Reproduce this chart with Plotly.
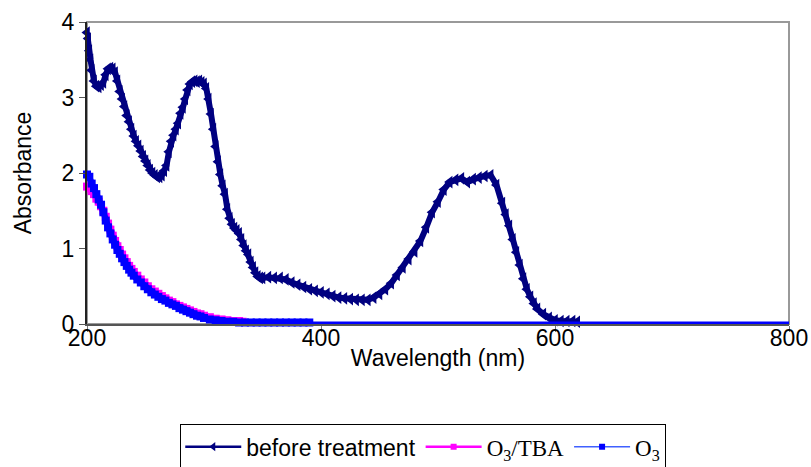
import plotly.graph_objects as go

# ---- data ----
before_wl = [200, 201, 202, 203, 204, 206, 208, 210, 212, 214, 216, 218, 220, 222, 224, 226, 228, 230,
             232, 234, 236, 238, 240, 242, 244, 246, 248, 250, 252, 254, 256, 258, 260, 262, 264, 266,
             268, 270, 272, 274, 276, 278, 280, 282, 284, 286, 288, 290, 292, 294, 296, 298, 300, 302,
             304, 306, 308, 310, 312, 314, 316, 318, 320, 322, 324, 326, 328, 330, 332, 334, 336, 338,
             340, 342, 344, 346, 348, 350, 355, 360, 365, 370, 375, 380, 385, 390, 395, 400, 405, 410,
             415, 420, 425, 430, 435, 440, 445, 450, 455, 460, 465, 470, 475, 480, 485, 490, 495, 500,
             505, 510, 515, 520, 525, 530, 535, 540, 545, 550, 555, 558, 561, 564, 567, 570, 573, 576,
             579, 582, 585, 590, 595, 600, 605, 610, 615, 619]
before_abs = [3.86, 3.78, 3.62, 3.50, 3.36, 3.22, 3.15, 3.14, 3.17, 3.20, 3.30, 3.38, 3.39, 3.38, 3.33, 3.22, 3.08, 2.98,
              2.88, 2.76, 2.68, 2.58, 2.49, 2.42, 2.36, 2.29, 2.22, 2.16, 2.10, 2.04, 2.00, 1.97, 1.95, 1.95, 1.97, 2.03,
              2.10, 2.28, 2.42, 2.50, 2.58, 2.66, 2.79, 2.87, 2.98, 3.10, 3.18, 3.21, 3.22, 3.21, 3.22, 3.20, 3.18, 3.12,
              2.98, 2.78, 2.58, 2.35, 2.15, 1.98, 1.83, 1.72, 1.52, 1.40, 1.32, 1.27, 1.24, 1.20, 1.12, 1.04, 0.97, 0.92,
              0.82, 0.75, 0.68, 0.63, 0.61, 0.61, 0.62, 0.61, 0.61, 0.59, 0.55, 0.52, 0.49, 0.46, 0.44, 0.42, 0.40, 0.37,
              0.35, 0.34, 0.33, 0.32, 0.32, 0.32, 0.35, 0.40, 0.46, 0.54, 0.65, 0.75, 0.86, 0.96, 1.10, 1.28, 1.48, 1.62,
              1.78, 1.88, 1.91, 1.93, 1.88, 1.92, 1.94, 1.96, 1.97, 1.84, 1.60, 1.45, 1.30, 1.12, 0.95, 0.78, 0.60, 0.46,
              0.36, 0.27, 0.20, 0.13, 0.08, 0.05, 0.04, 0.04, 0.04, 0.03]

tba_wl = [200, 202, 204, 206, 208, 210, 212, 214, 216, 218, 220, 222, 224, 226, 228, 230, 232, 234, 236, 238,
          240, 243, 246, 249, 252, 255, 258, 261, 264, 267, 270, 273, 276, 279, 282, 285, 288, 291, 294, 297,
          300, 305, 310, 315, 320, 325, 330, 333]
tba_abs = [1.82, 1.80, 1.76, 1.72, 1.66, 1.62, 1.56, 1.50, 1.42, 1.33, 1.25, 1.17, 1.10, 1.03, 0.98, 0.92, 0.87, 0.82,
           0.77, 0.73, 0.69, 0.64, 0.59, 0.55, 0.50, 0.46, 0.43, 0.40, 0.37, 0.34, 0.31, 0.29, 0.26, 0.24, 0.22, 0.20,
           0.18, 0.16, 0.14, 0.13, 0.11, 0.09, 0.07, 0.06, 0.05, 0.04, 0.04, 0.03]

o3_wl = [200, 202, 204, 206, 208, 210, 212, 214, 216, 218, 220, 222, 224, 226, 228, 230, 232, 234, 236, 238,
         240, 243, 246, 249, 252, 255, 258, 261, 264, 267, 270, 273, 276, 279, 282, 285, 288, 291, 294, 297,
         300, 305, 310, 315, 320, 325, 330, 335, 340, 345, 350, 355, 360, 365, 370, 375, 380, 385, 390]
o3_abs = [1.98, 1.95, 1.86, 1.80, 1.72, 1.65, 1.58, 1.48, 1.37, 1.28, 1.20, 1.12, 1.05, 0.98, 0.93, 0.87, 0.82, 0.77,
          0.72, 0.68, 0.64, 0.59, 0.55, 0.50, 0.46, 0.42, 0.39, 0.36, 0.33, 0.31, 0.28, 0.26, 0.24, 0.21, 0.19, 0.17,
          0.15, 0.13, 0.11, 0.10, 0.08, 0.06, 0.05, 0.04, 0.03, 0.03, 0.02, 0.02, 0.02, 0.02, 0.02, 0.02, 0.02, 0.02,
          0.02, 0.02, 0.02, 0.02, 0.02]
o3_tail_wl = [390, 800]
o3_tail_abs = [0.0, 0.0]

x_ticks = [200, 400, 600, 800]
y_ticks = [0, 1, 2, 3, 4]

SANS = "Liberation Sans, Arial, sans-serif"
NAVY, MAGENTA, BLUE = "#000080", "#FF00FF", "#0000FF"
TBA_NAME = "<span style=\"font-family:'Liberation Serif'\">O<sub>3</sub>/TBA</span>"
O3_NAME = "<span style=\"font-family:'Liberation Serif'\">O<sub>3</sub></span>"

fig = go.Figure()
# drawn series (thick bands as in the reference)
fig.add_trace(go.Scatter(
    x=before_wl, y=before_abs, mode="lines+markers", showlegend=False, legendgroup="b",
    line=dict(color=NAVY, width=6),
    marker=dict(symbol="triangle-left", size=11, color=NAVY),
    cliponaxis=False))
fig.add_trace(go.Scatter(
    x=tba_wl, y=tba_abs, mode="lines+markers", showlegend=False, legendgroup="t",
    line=dict(color=MAGENTA, width=6),
    marker=dict(symbol="square", size=8, color=MAGENTA),
    cliponaxis=False))
fig.add_trace(go.Scatter(
    x=o3_tail_wl, y=o3_tail_abs, mode="lines", showlegend=False, legendgroup="o",
    line=dict(color=BLUE, width=5), cliponaxis=False))
fig.add_trace(go.Scatter(
    x=o3_wl, y=o3_abs, mode="lines+markers", showlegend=False, legendgroup="o",
    line=dict(color=BLUE, width=6),
    marker=dict(symbol="square", size=8, color=BLUE),
    cliponaxis=False))

# legend entries (thin line + small marker, as in the reference legend)
fig.add_trace(go.Scatter(x=[None], y=[None], mode="lines+markers", name="before treatment",
                         legendgroup="b", line=dict(color=NAVY, width=2.5),
                         marker=dict(symbol="triangle-left", size=8, color=NAVY)))
fig.add_trace(go.Scatter(x=[None], y=[None], mode="lines+markers", name=TBA_NAME,
                         legendgroup="t", line=dict(color=MAGENTA, width=2.5),
                         marker=dict(symbol="square", size=6, color=MAGENTA)))
fig.add_trace(go.Scatter(x=[None], y=[None], mode="lines+markers", name=O3_NAME,
                         legendgroup="o", line=dict(color="#4060FF", width=1.5),
                         marker=dict(symbol="square", size=6, color=BLUE)))

fig.add_shape(type="rect", xref="x domain", yref="y domain", x0=0, x1=1, y0=0, y1=1,
              line=dict(color="#999999", width=2), layer="below")

fig.update_layout(
    width=811, height=467,
    margin=dict(l=87, r=22, t=22, b=143, autoexpand=False),
    paper_bgcolor="white", plot_bgcolor="white",
    font=dict(family=SANS, size=23, color="black"),
    showlegend=True,
    legend=dict(orientation="h", x=0.479, xanchor="center", y=-0.332, yanchor="top",
                bordercolor="black", borderwidth=1, bgcolor="white",
                font=dict(family=SANS, size=23, color="black"),
                itemwidth=56, tracegroupgap=0),
)
fig.update_xaxes(range=[200, 800], tickvals=x_ticks, ticktext=[str(v) for v in x_ticks],
                 automargin=False,
                 showgrid=False, zeroline=False, showline=True, linecolor="#555555", linewidth=2,
                 ticks="outside", ticklen=6, tickcolor="#777777", tickwidth=1,
                 ticklabelstandoff=-14,
                 title=dict(text="Wavelength (nm)", standoff=0, font=dict(size=23)))
fig.update_yaxes(range=[0, 4], tickvals=y_ticks, ticktext=[str(v) for v in y_ticks],
                 automargin=False,
                 showgrid=False, zeroline=False, showline=True, linecolor="#222222", linewidth=2,
                 ticks="outside", ticklen=6, tickcolor="#555555", tickwidth=1,
                 title=dict(text="Absorbance", standoff=24, font=dict(size=23)))

fig.write_html("out.html", config={"displayModeBar": False},
               post_script="document.body.style.margin='0';document.body.style.padding='0';")
